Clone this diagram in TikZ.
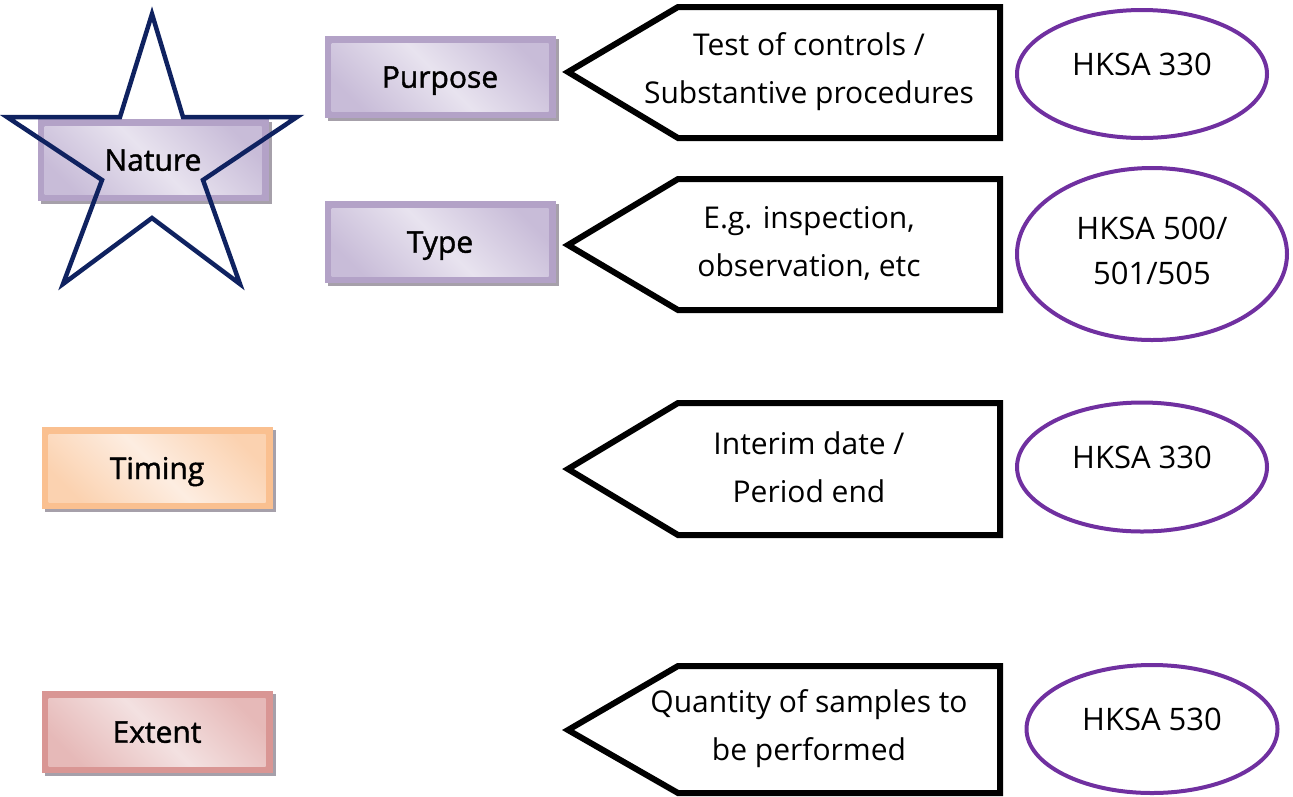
\documentclass[tikz,border=0pt]{standalone}
\usepackage{fontspec}
\setmainfont{Open Sans}
\newfontfamily\semib[FakeBold=1.4]{Open Sans}
\usetikzlibrary{shapes.geometric,shadows}
\definecolor{purB}{HTML}{B3A2C7}
\definecolor{purM}{HTML}{C8BCD8}
\definecolor{purL}{HTML}{E8E3EF}
\definecolor{oraB}{HTML}{FAC090}
\definecolor{oraM}{HTML}{FBD2B0}
\definecolor{oraL}{HTML}{FDEDE1}
\definecolor{redB}{HTML}{D99694}
\definecolor{redM}{HTML}{E6B9B8}
\definecolor{redL}{HTML}{F3E1E1}
\definecolor{shadowc}{HTML}{A6A0AA}
\definecolor{ovalc}{HTML}{7030A0}
\definecolor{starc}{HTML}{0F2260}
\tikzset{
  txt/.style={font=\fontsize{30}{48}\selectfont, align=center, inner sep=0pt},
  htxt/.style={font=\fontsize{31}{45}\selectfont, align=center, inner sep=0pt},
  catbox/.style n args={3}{minimum width=231pt, minimum height=82pt, inner sep=0pt,
    text depth=0pt, fill=#1, font=\semib\fontsize{30}{32}\selectfont,
    drop shadow={shadow xshift=3pt, shadow yshift=-3pt, fill=shadowc, opacity=1},
    path picture={\shade[left color=#2, right color=#2, middle color=#3, shading angle=135]
      ([shift={(7pt,7pt)}]path picture bounding box.south west) rectangle
      ([shift={(-7pt,-7pt)}]path picture bounding box.north east);}},
  pent/.style={draw=black, line width=6pt, line join=miter, fill=white},
  oval/.style={draw=ovalc, line width=4pt, ellipse, inner sep=0pt},
}
\begin{document}
\begin{tikzpicture}[x=1pt,y=-1pt]
\useasboundingbox (0,0) rectangle (1293,796);

% category boxes
\node[catbox={purB}{purM}{purL}] (nature) at (153,160) {Nature};
\node[catbox={purB}{purM}{purL}] (purpose) at (440,77) {Purpose};
\node[catbox={purB}{purM}{purL}] (type) at (440,242) {Type};
\node[catbox={oraB}{oraM}{oraL}] (timing) at (157,468) {Timing};
\node[catbox={redB}{redM}{redL}] (extent) at (157,732) {Extent};

% star
\draw[starc, line width=4.5pt, line join=miter]
  (152,14) -- (183,117) -- (297,117) -- (203,180) -- (240,284)
  -- (152,218) -- (63,284) -- (102,180) -- (7,117) -- (120,117) -- cycle;

% pentagon arrows
\draw[pent] (1000,7) -- (678,7) -- (568,72) -- (678,138) -- (1000,138) -- cycle;
\draw[pent] (1000,179) -- (678,179) -- (568,245) -- (678,310) -- (1000,310) -- cycle;
\draw[pent] (1000,403) -- (678,403) -- (568,469) -- (678,535) -- (1000,535) -- cycle;
\draw[pent] (1000,666) -- (678,666) -- (568,730) -- (678,793) -- (1000,793) -- cycle;

\node[txt] (t1) at (809,72) {Test of controls /\\Substantive procedures};
\node[txt] (t2) at (809,243) {E.g. inspection,\\observation, etc};
\node[txt] (t3) at (809,467) {Interim date /\\Period end};
\node[txt] (t4) at (809,729) {Quantity of samples to\\be performed};

% ellipses
\node[oval, minimum width=250pt, minimum height=128pt] (e1) at (1142,74) {};
\node[oval, minimum width=270pt, minimum height=172pt] (e2) at (1152,254) {};
\node[oval, minimum width=250pt, minimum height=129pt] (e3) at (1142,467) {};
\node[oval, minimum width=251pt, minimum height=128pt] (e4) at (1152,729) {};

\node[htxt] (h1) at (1142,64) {HKSA 330};
\node[htxt] (h2) at (1152,251) {HKSA 500/\\501/505};
\node[htxt] (h3) at (1142,457) {HKSA 330};
\node[htxt] (h4) at (1152,719) {HKSA 530};
\end{tikzpicture}
\end{document}
